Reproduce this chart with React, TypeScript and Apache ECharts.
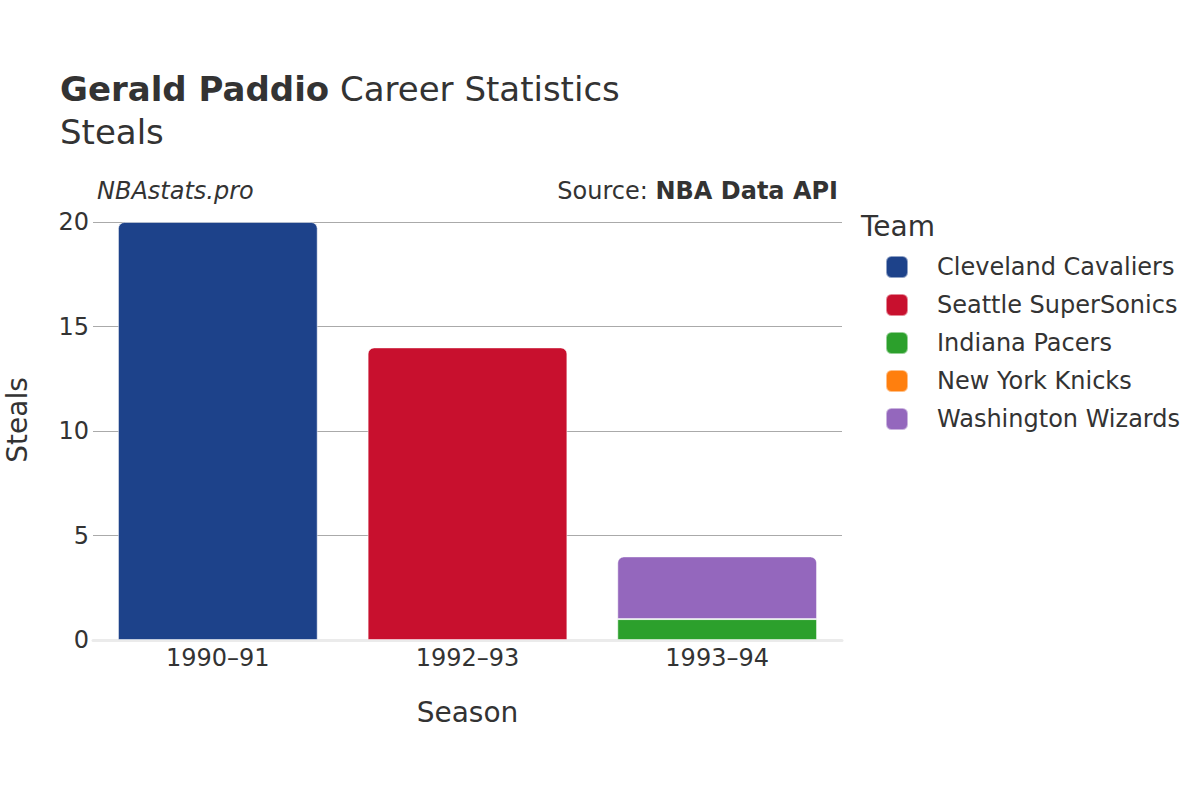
import React, { useEffect, useRef } from "react";
import * as echarts from "echarts";

const seasons = ["1990–91", "1992–93", "1993–94"];
const teams = ["Cleveland Cavaliers", "Seattle SuperSonics", "Indiana Pacers", "New York Knicks", "Washington Wizards"];
const teamColors = ["#1d428a", "#c8102e", "#2ca02c", "#ff7f0e", "#9467bd"];
const cavaliers = [20, null, null];
const supersonics = [null, 14, null];
const pacers = [null, null, 1];
const knicks = [null, null, 0];
const wizards = [null, null, 3];
const yTicks = [0, 5, 10, 15, 20];

const FONT = "DejaVu Sans";

export default function App() {
  const ref = useRef<HTMLDivElement>(null);
  useEffect(() => {
    const chart = echarts.init(ref.current!, null, { renderer: "svg" });
    const seriesData = [cavaliers, supersonics, pacers, knicks, wizards];
    const rounded = [true, true, false, false, true];
    chart.setOption({
      animation: false,
      textStyle: { fontFamily: FONT },
      title: [
        {
          text: "{b|Gerald Paddio} Career Statistics\nSteals",
          left: 55,
          top: 62,
          textStyle: {
            fontFamily: FONT,
            fontSize: 34,
            color: "#333",
            fontWeight: "normal",
            lineHeight: 43,
            rich: {
              b: { fontFamily: FONT, fontSize: 34, fontWeight: "bold", color: "#333" },
            },
          },
        },
      ],
      graphic: [
        { type: "text", left: 97, top: 179, style: { text: "NBAstats.pro", font: `italic 24px "${FONT}"`, fill: "#333" } },
        {
          type: "text",
          right: 362,
          top: 179,
          style: {
            text: "{n|Source: }{b|NBA Data API}",
            rich: {
              n: { fontFamily: FONT, fontSize: 24, fill: "#333", color: "#333" },
              b: { fontFamily: FONT, fontSize: 24, fontWeight: "bold", fill: "#333", color: "#333" },
            },
          },
        },
        { type: "text", left: 861, top: 212, style: { text: "Team", font: `28px "${FONT}"`, fill: "#333" } },
        {
          type: "text",
          x: 17,
          y: 420,
          rotation: Math.PI / 2,
          style: { text: "Steals", font: `28px "${FONT}"`, fill: "#333", align: "center", verticalAlign: "middle" },
        },
      ],
      legend: {
        orient: "vertical",
        left: 880,
        top: 250,
        itemWidth: 22,
        itemHeight: 22,
        itemGap: 14,
        icon: "roundRect",
        data: teams,
        textStyle: { fontFamily: FONT, fontSize: 24, lineHeight: 24, color: "#333", padding: [0, 0, 0, 24] },
        selectedMode: false,
      },
      grid: { left: 93, right: 358, top: 222, bottom: 160, outerBoundsMode: "none", containLabel: false },
      xAxis: {
        type: "category",
        data: seasons,
        axisLine: { show: true, lineStyle: { color: "#ebebeb", width: 3 } },
        axisTick: { show: false },
        axisLabel: { fontFamily: FONT, fontSize: 24, color: "#333", margin: 6 },
        name: "Season",
        nameLocation: "middle",
        nameGap: 58,
        nameTextStyle: { fontFamily: FONT, fontSize: 28, color: "#333" },
      },
      yAxis: {
        type: "value",
        min: yTicks[0],
        max: yTicks[yTicks.length - 1],
        interval: 5,
        axisLine: { show: false },
        axisTick: { show: false },
        splitLine: { lineStyle: { color: "#aaaaaa", width: 1 } },
        axisLabel: { fontFamily: FONT, fontSize: 24, color: "#333", margin: 4 },
      },
      series: teams.map((t, i) => ({
        name: t,
        type: "bar",
        stack: "total",
        barWidth: "80%",
        data: seriesData[i],
        itemStyle: {
          color: teamColors[i],
          borderRadius: rounded[i] ? [6, 6, 0, 0] : 0,
          borderColor: "rgba(255,255,255,0.5)",
          borderWidth: 1,
        },
      })),
    });
    return () => chart.dispose();
  }, []);
  return <div ref={ref} style={{ position: "absolute", left: 0, top: 0, width: 1200, height: 800 }} />;
}
